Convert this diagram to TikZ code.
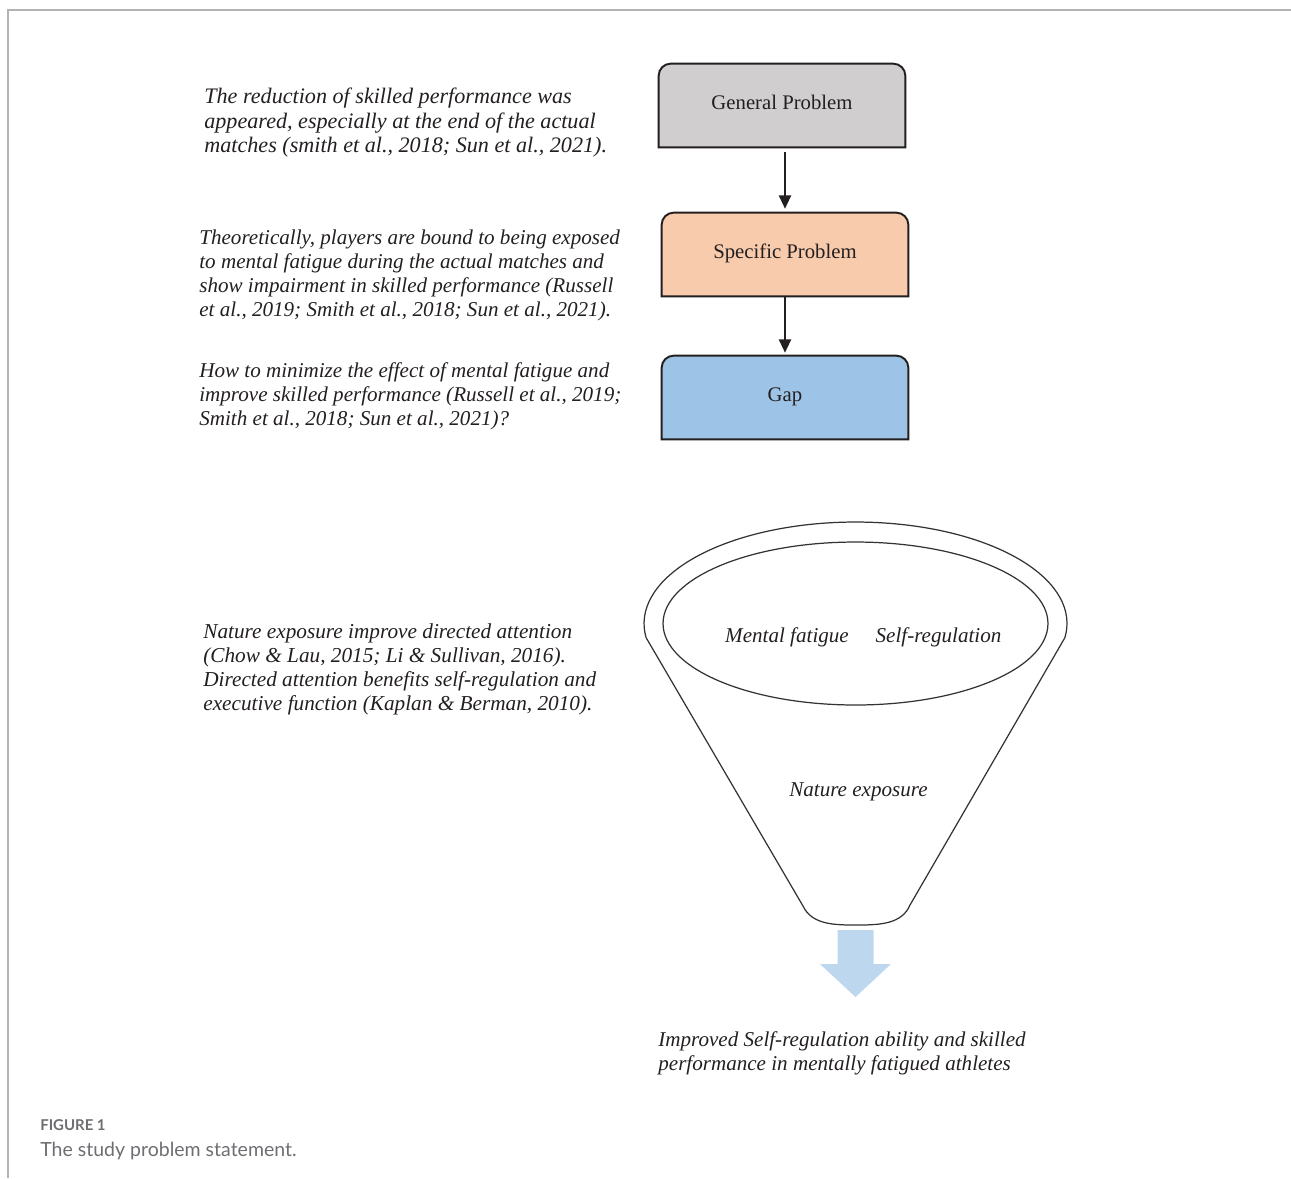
\documentclass[tikz,border=0pt]{standalone}
\usepackage{fontspec}
\setmainfont{Liberation Serif}
\newfontfamily\capfont{Lato}
\usepackage{xcolor}
\usepackage{tikz}
\usetikzlibrary{arrows.meta,shapes.geometric,backgrounds}

\definecolor{genfill}{HTML}{D0CECE}
\definecolor{specfill}{HTML}{F8CBAD}
\definecolor{gapfill}{HTML}{9DC3E6}
\definecolor{outfill}{HTML}{BDD7EE}
\definecolor{inkdark}{HTML}{231F20}
\definecolor{capgray}{HTML}{6D6E71}
\definecolor{framegray}{HTML}{B3B3B3}

\begin{document}
\begin{tikzpicture}[x=0.02cm, y=0.02cm,
			every node/.style={inner sep=0pt, text=inkdark},
			note/.style={anchor=north west, align=left, font=\fontsize{12}{13.7}\selectfont\itshape},
			probbox/.style={minimum width=4.92cm, minimum height=1.66cm, text height=0.66em, text depth=0.2em, font=\fontsize{11.8}{13.7}\selectfont},
			boxline/.style={draw=inkdark, line width=1.1pt},
			flow/.style={draw=inkdark, line width=0.8pt, -{Triangle[length=7.6pt, width=7pt]}},
			funnel/.style={draw=black!80, line width=0.7pt},
			word/.style={anchor=base, font=\fontsize{12}{13.7}\selectfont\itshape}]
	\useasboundingbox (0,0) rectangle (1291,-1178);
	\draw[framegray, line width=1.2pt] (1291,-10) -- (8,-10) -- (8,-1178);

	% problem chain
	\node[probbox] (gen) at (782,-105.5) {General Problem};
	\node[probbox] (spec) at (785,-254.5) {Specific Problem};
	\node[probbox] (gap) at (785,-397.5) {Gap};
	\begin{scope}[on background layer]
		\foreach \n/\c in {gen/genfill, spec/specfill, gap/gapfill}
			\draw[boxline, fill=\c] (\n.south west) -- ([yshift=-0.24cm]\n.north west)
				arc[start angle=180, end angle=90, radius=0.24cm] -- ([xshift=-0.24cm]\n.north east)
				arc[start angle=90, end angle=0, radius=0.24cm] -- (\n.south east) -- cycle;
	\end{scope}
	\draw[flow, shorten <=0.1cm, shorten >=0.08cm] (gen.south -| spec.north) -- (spec.north);
	\draw[flow, shorten >=0.06cm] (spec) -- (gap);

	\node[note, font=\fontsize{12.6}{13.7}\selectfont\itshape] (general) at (204,-88) {The reduction of skilled performance was\\appeared, especially at the end of the actual\\matches (smith et al., 2018; Sun et al., 2021).};
	\node[note] (specific) at (199,-229.6) {Theoretically, players are bound to being exposed\\to mental fatigue during the actual matches and\\show impairment in skilled performance (Russell\\et al., 2019; Smith et al., 2018; Sun et al., 2021).};
	\node[note] (question) at (199,-362.6) {How to minimize the effect of mental fatigue and\\improve skilled performance (Russell et al., 2019;\\Smith et al., 2018; Sun et al., 2021)?};
	\node[note, font=\fontsize{12.1}{13.7}\selectfont\itshape] (theory) at (203,-623.6) {Nature exposure improve directed attention\\(Chow \& Lau, 2015; Li \& Sullivan, 2016).\\Directed attention benefits self-regulation and\\executive function (Kaplan \& Berman, 2010).};

	% funnel
	\coordinate (fc) at (855.5,-623.5);
	\draw[funnel] (fc) ++(-8:4.23cm and 2.03cm)
		arc[start angle=-8, end angle=188, x radius=4.23cm, y radius=2.03cm]
		-- (803,-906) .. controls (812,-925) and (835,-925) .. (857,-925)
		.. controls (880,-925) and (902,-924) .. (910,-905) -- cycle;
	\node[funnel, ellipse, minimum width=7.7cm, minimum height=3.26cm] (pool) at (fc) {};
	\node[word] (fatigue) at (787,-642) {Mental fatigue};
	\node[word] (selfreg) at (938.5,-642) {Self-regulation};
	\node[word] (nature) at (858.5,-796) {Nature exposure};
	\fill[outfill] (837.5,-930) -- (873.5,-930) -- (873.5,-964) -- (891,-964) -- (855.5,-997)
		-- (820,-964) -- (837.5,-964) -- cycle;
	\node[note] (outcome) at (658,-1031.3) {Improved Self-regulation ability and skilled\\performance in mentally fatigued athletes};

	% caption
	\node[anchor=base west, font=\capfont\bfseries\fontsize{8.5}{10}\selectfont, text=capgray] (figno) at (40,-1130) {FIGURE 1};
	\node[anchor=base west, font=\capfont\fontsize{11.1}{13}\selectfont, text=capgray] (figcap) at (40,-1156.5) {The study problem statement.};
\end{tikzpicture}
\end{document}
